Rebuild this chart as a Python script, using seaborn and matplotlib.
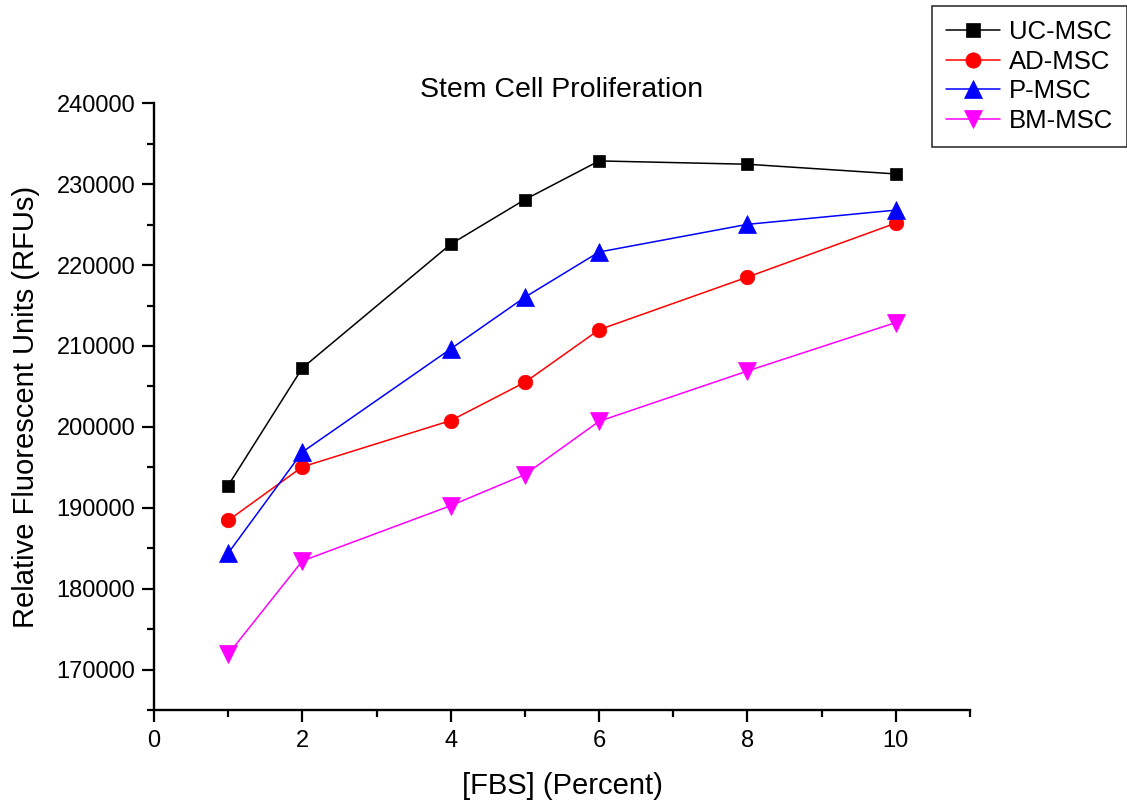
import matplotlib
matplotlib.use("Agg")
import matplotlib.pyplot as plt
from matplotlib.ticker import MultipleLocator
import seaborn as sns
import pandas as pd

# ---- data ----
fbs = [1, 2, 4, 5, 6, 8, 10]
uc_msc = [192750, 207280, 222590, 228100, 232880, 232470, 231270]
ad_msc = [188430, 195060, 200780, 205510, 212010, 218520, 225190]
p_msc = [184380, 196890, 209640, 216030, 221620, 225040, 226800]
bm_msc = [171890, 183430, 190260, 194110, 200690, 206910, 212900]
series_names = ["UC-MSC", "AD-MSC", "P-MSC", "BM-MSC"]
series_values = [uc_msc, ad_msc, p_msc, bm_msc]
x_ticks = [0, 2, 4, 6, 8, 10]
y_ticks = [170000, 180000, 190000, 200000, 210000, 220000, 230000, 240000]

colors = ["#000000", "#FF0000", "#0000FF", "#FF00FF"]
markers = ["s", "o", "^", "v"]
msizes = [9.0, 10.5, 12.5, 12.5]

sns.set_style("ticks")
plt.rcParams["font.family"] = ["Liberation Sans", "DejaVu Sans"]
plt.rcParams["text.color"] = "black"
plt.rcParams["axes.labelcolor"] = "black"
plt.rcParams["xtick.color"] = "black"
plt.rcParams["ytick.color"] = "black"

fig = plt.figure(figsize=(11.27, 8.01), dpi=100)
ax = fig.add_axes([0.1366, 0.1136, 0.8607 - 0.1366, 0.871 - 0.1136])

for name, vals, c, m, ms in zip(series_names, series_values, colors, markers, msizes):
    df = pd.DataFrame({"FBS": fbs, "RFU": vals})
    sns.lineplot(data=df, x="FBS", y="RFU", ax=ax, color=c, marker=m,
                 markersize=ms, markeredgecolor=c, markeredgewidth=0.5,
                 linewidth=1.1, label=name, clip_on=False)

ax.set_xlim(0, 11)
ax.set_ylim(165000, 240000)
ax.set_xticks(x_ticks)
ax.set_yticks(y_ticks)
ax.xaxis.set_minor_locator(MultipleLocator(1))
ax.yaxis.set_minor_locator(MultipleLocator(5000))
ax.set_xticklabels([str(t) for t in x_ticks])
ax.set_yticklabels([str(t) for t in y_ticks])

for s in ["top", "right"]:
    ax.spines[s].set_visible(False)
for s in ["left", "bottom"]:
    ax.spines[s].set_linewidth(1.7)
    ax.spines[s].set_color("black")

ax.tick_params(axis="both", which="major", direction="out", length=8.5,
               width=1.6, labelsize=17, colors="black", labelcolor="black")
ax.tick_params(axis="both", which="minor", direction="out", length=5,
               width=1.6, colors="black")
ax.tick_params(axis="x", which="major", pad=6)
ax.tick_params(axis="y", which="major", pad=5)

ax.set_xlabel("[FBS] (Percent)", fontsize=21, labelpad=14, color="black")
ax.set_ylabel("Relative Fluorescent Units (RFUs)", fontsize=21, labelpad=12,
              color="black")
ax.set_title("Stem Cell Proliferation", fontsize=20.5, pad=2, color="black")

handles, labels = ax.get_legend_handles_labels()
ax.get_legend().remove()
leg = fig.legend(handles, labels, loc="upper right",
                 bbox_to_anchor=(1.0, 1 - 6 / 801), fontsize=18.5,
                 frameon=True, fancybox=False, borderaxespad=0.0,
                 handlelength=2.1, handletextpad=0.35, labelspacing=0.22,
                 borderpad=0.55, markerscale=1.05)
leg.get_frame().set_edgecolor("black")
leg.get_frame().set_linewidth(1.2)
for t in leg.get_texts():
    t.set_color("black")

fig.savefig("out.png", dpi=100)
